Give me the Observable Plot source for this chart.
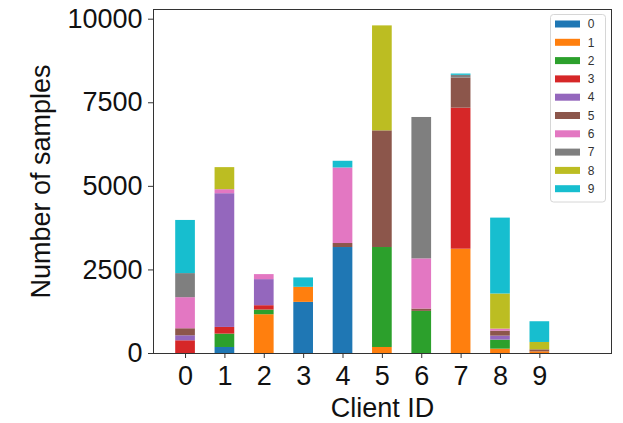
<!DOCTYPE html>
<html>
<head>
<meta charset="utf-8">
<script src="https://cdn.jsdelivr.net/npm/d3@7"></script>
<script src="https://cdn.jsdelivr.net/npm/@observablehq/plot@0.6"></script>
<style>
  body { margin: 0; background: #fff; }
</style>
</head>
<body>
<div id="chart"></div>
<script>
// Client IDs along the x axis
const clients = [0, 1, 2, 3, 4, 5, 6, 7, 8, 9];
// Class labels stacked inside each bar (bottom to top)
const labels = ["0", "1", "2", "3", "4", "5", "6", "7", "8", "9"];
// Samples per class label for each client (one row per client, columns = labels 0..9)
const client0 = [0, 0, 0, 380, 150, 210, 930, 720, 0, 1590];
const client1 = [180, 0, 400, 200, 4000, 0, 120, 0, 660, 0];
const client2 = [0, 1160, 140, 130, 780, 0, 150, 0, 0, 0];
const client3 = [1530, 450, 0, 0, 0, 0, 0, 0, 0, 280];
const client4 = [3170, 0, 0, 0, 0, 120, 2260, 0, 0, 200];
const client5 = [0, 180, 2990, 0, 0, 3490, 0, 0, 3140, 0];
const client6 = [0, 0, 1260, 0, 0, 70, 1500, 4230, 0, 0];
const client7 = [0, 3120, 0, 4220, 0, 900, 0, 80, 0, 40];
const client8 = [0, 130, 270, 0, 120, 150, 60, 0, 1050, 2270];
const client9 = [0, 50, 0, 0, 0, 60, 0, 0, 220, 620];
const counts = [client0, client1, client2, client3, client4, client5, client6, client7, client8, client9];
// y axis ticks
const yTicks = [0, 2500, 5000, 7500, 10000];
// tab10 palette
const colors = ["#1f77b4", "#ff7f0e", "#2ca02c", "#d62728", "#9467bd",
                "#8c564b", "#e377c2", "#7f7f7f", "#bcbd22", "#17becf"];

const rows = clients.flatMap((c, i) =>
  labels.map((l, j) => ({client: c, label: l, count: counts[i][j]}))
).filter(d => d.count > 0);

const font = "'Liberation Sans', Arial, Helvetica, sans-serif";
const halfWidth = 0.25;

const plot = Plot.plot({
  width: 623,
  height: 423,
  marginTop: 9,
  marginBottom: 70,
  marginLeft: 153,
  marginRight: 12,
  style: {fontFamily: font, fontSize: "27px", color: "#111", background: "#fff", overflow: "visible"},
  x: {domain: [-0.814, 10.82]},
  y: {domain: [0, 10290]},
  color: {domain: labels, range: colors},
  marks: [
    Plot.rectY(rows, Plot.stackY({
      x1: d => d.client - halfWidth,
      x2: d => d.client + halfWidth,
      y: "count",
      fill: "label"
    })),
    Plot.frame({stroke: "#333", strokeWidth: 1}),
    Plot.axisX({
      ticks: clients,
      tickFormat: d => String(d),
      tickSize: 5,
      tickPadding: 7,
      stroke: "#333",
      fontSize: 27,
      label: "Client ID",
      labelAnchor: "center",
      labelArrow: "none",
      labelOffset: 63
    }),
    Plot.axisY({
      ticks: yTicks,
      tickFormat: d3.format("d"),
      tickSize: 5,
      tickPadding: 6,
      stroke: "#333",
      fontSize: 27,
      label: "Number of samples",
      labelAnchor: "center",
      labelArrow: "none",
      labelOffset: 123
    })
  ]
});

// Legend box in the upper-right corner of the axes
const color = plot.scale("color");
const svg = d3.select(plot);
const legend = svg.append("g").attr("font-family", font).attr("font-size", 12);
const box = {x: 550.5, y: 14.5, w: 55, h: 187.5, row: 18.3, first: 24};
legend.append("rect")
  .attr("x", box.x).attr("y", box.y)
  .attr("width", box.w).attr("height", box.h)
  .attr("rx", 3)
  .attr("fill", "#fff").attr("fill-opacity", 0.8)
  .attr("stroke", "#d6d6d6");
const entries = legend.selectAll("g.entry")
  .data(color.domain)
  .join("g")
  .attr("transform", (d, i) => `translate(0,${box.first + i * box.row})`);
entries.append("rect")
  .attr("x", 555).attr("y", -3.5)
  .attr("width", 25).attr("height", 7)
  .attr("fill", d => color.apply(d));
entries.append("text")
  .attr("x", 591).attr("y", 0)
  .attr("dy", "0.35em")
  .attr("fill", "#333")
  .text(d => d);

document.getElementById("chart").append(plot);
</script>
</body>
</html>
